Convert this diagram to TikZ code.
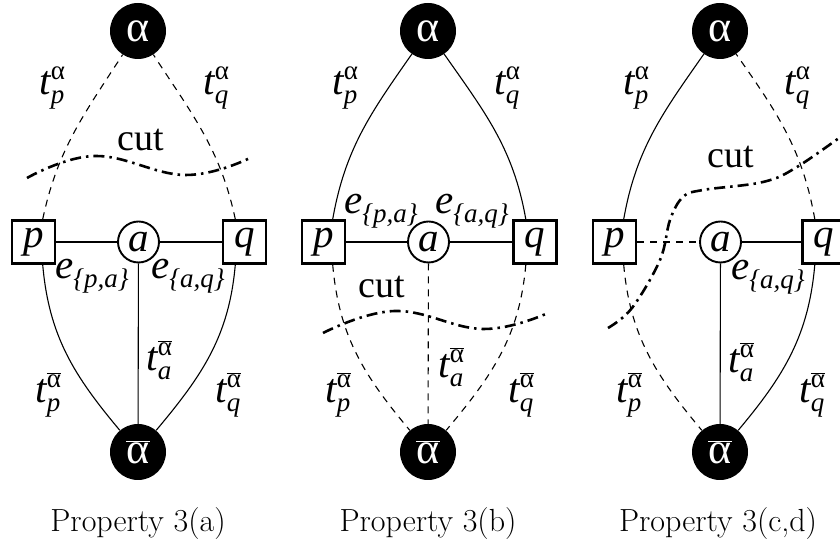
\documentclass[tikz,border=0pt]{standalone}
\usepackage{fontspec}
\newfontfamily\tms{Liberation Serif}[ItalicFont={Liberation Serif Italic},BoldFont={Liberation Serif Bold}]
\newcommand\bigf{\tms\fontsize{41}{41}\selectfont}
\newcommand\smf{\tms\fontsize{27}{27}\selectfont}
\newcommand\alb{$\overline{\hbox{α}}$}
\newcommand\tlab[2]{{\bigf\itshape t}\rlap{\raisebox{15pt}{\smf\upshape #2}}\raisebox{-9pt}{\smf\itshape #1}}
\newcommand\elab[1]{{\bigf\itshape e}\raisebox{-9pt}{\smf\itshape\{#1\}}}
\begin{document}
\begin{tikzpicture}[x=1pt,y=1pt,
 bnode/.style={circle,fill=black,minimum size=56pt,inner sep=0pt,text=white,font=\tms\fontsize{44}{44}\selectfont},
 boxn/.style={rectangle,draw,line width=2.6pt,minimum size=43pt,inner sep=0pt,fill=white,font=\bigf\itshape},
 anode/.style={circle,draw,line width=1.9pt,minimum size=41pt,inner sep=0pt,fill=white,font=\bigf\itshape},
 edg/.style={line width=1.1pt},
 dedg/.style={line width=1.1pt,dash pattern=on 7pt off 6pt},
 cutline/.style={line width=2.6pt,dash pattern=on 11pt off 5pt on 2.5pt off 5pt},
 lbl/.style={inner sep=0pt},
 cuttext/.style={inner sep=0pt,font=\tms\fontsize{38}{38}\selectfont},
 capt/.style={inner sep=0pt,font=\fontsize{32}{32}\selectfont}]
\useasboundingbox (0,0) rectangle (840,548);
\clip (0,0) rectangle (840,548);
% ---------- panel 1
\node[bnode] (al1) at (138,517) {α};
\node[boxn] (p1) at (33.5,306) {p};
\node[anode] (a1) at (138.5,306) {a};
\node[boxn] (q1) at (244.5,306) {q};
\node[bnode] (ab1) at (138,96) {\alb};
\draw[dedg] (p1.68) to[out=78,in=237] (al1);
\draw[dedg] (q1.112) to[out=102,in=-57] (al1);
\draw[edg] (p1) -- (a1);
\draw[edg] (a1) -- (q1);
\draw[edg] (p1.-68) to[out=-85,in=130] (ab1);
\draw[edg] (q1.-112) to[out=-95,in=50] (ab1);
\draw[edg] (a1) -- (ab1);
\node[lbl] (t1p) at (52,460) {\tlab{p}{α}};
\node[lbl] (t1q) at (216,460) {\tlab{q}{α}};
\node[lbl] (e1p) at (92,272) {\elab{p,a}};
\node[lbl] (e1q) at (188,272) {\elab{a,q}};
\node[lbl] (t1a) at (159,188) {\tlab{a}{\alb}};
\node[lbl] (t1pb) at (48,153) {\tlab{p}{\alb}};
\node[lbl] (t1qb) at (228,153) {\tlab{q}{\alb}};
\node[cuttext] (c1) at (141,408) {cut};
\draw[cutline] plot[smooth,tension=0.7] coordinates {(27,370) (95,392) (185,373) (250,390)};
\node[capt] (cap1) at (138,24) {Property 3(a)};
% ---------- panel 2
\node[bnode] (al2) at (428,517) {α};
\node[boxn] (p2) at (323.5,306) {p};
\node[anode] (a2) at (428.5,306) {a};
\node[boxn] (q2) at (535,306) {q};
\node[bnode] (ab2) at (428,96) {\alb};
\draw[edg] (p2.68) to[out=80,in=235] (al2);
\draw[edg] (q2.112) to[out=100,in=-55] (al2);
\draw[edg] (p2) -- (a2);
\draw[edg] (a2) -- (q2);
\draw[dedg] (p2.-68) to[out=-85,in=130] (ab2);
\draw[dedg] (q2.-112) to[out=-95,in=50] (ab2);
\draw[dedg] (a2) -- (ab2);
\node[lbl] (t2p) at (345,460) {\tlab{p}{α}};
\node[lbl] (t2q) at (507,460) {\tlab{q}{α}};
\node[lbl] (e2p) at (381,337) {\elab{p,a}};
\node[lbl] (e2q) at (472,337) {\elab{a,q}};
\node[lbl] (t2a) at (451,181) {\tlab{a}{\alb}};
\node[lbl] (t2pb) at (338,153) {\tlab{p}{\alb}};
\node[lbl] (t2qb) at (521,153) {\tlab{q}{\alb}};
\node[cuttext] (c2) at (382,261) {cut};
\draw[cutline] plot[smooth,tension=0.7] coordinates {(323,215) (395,237) (483,219) (548,235)};
\node[capt] (cap2) at (428,24) {Property 3(b)};
% ---------- panel 3
\node[bnode] (al3) at (720,517) {α};
\node[boxn] (p3) at (614.5,306) {p};
\node[anode] (a3) at (720.5,306) {a};
\node[boxn] (q3) at (824,306) {q};
\node[bnode] (ab3) at (720,96) {\alb};
\draw[edg] (p3.68) to[out=80,in=235] (al3);
\draw[dedg] (q3.112) to[out=100,in=-55] (al3);
\draw[dedg] (p3) -- (a3);
\draw[edg] (a3) -- (q3);
\draw[dedg] (p3.-68) to[out=-85,in=130] (ab3);
\draw[edg] (q3.-112) to[out=-95,in=50] (ab3);
\draw[edg] (a3) -- (ab3);
\node[lbl] (t3p) at (636,460) {\tlab{p}{α}};
\node[lbl] (t3q) at (797,460) {\tlab{q}{α}};
\node[lbl] (e3q) at (768,271) {\elab{a,q}};
\node[lbl] (t3a) at (741,186) {\tlab{a}{\alb}};
\node[lbl] (t3pb) at (629,153) {\tlab{p}{\alb}};
\node[lbl] (t3qb) at (812,153) {\tlab{q}{\alb}};
\node[cuttext] (c3) at (731,391) {cut};
\draw[cutline] plot[smooth,tension=0.6] coordinates {(608,220) (632,240) (660,288) (670,328) (683,351) (703,358) (763,366) (797,381) (850,418)};
\node[capt] (cap3) at (718,24) {Property 3(c,d)};
\end{tikzpicture}
\end{document}
